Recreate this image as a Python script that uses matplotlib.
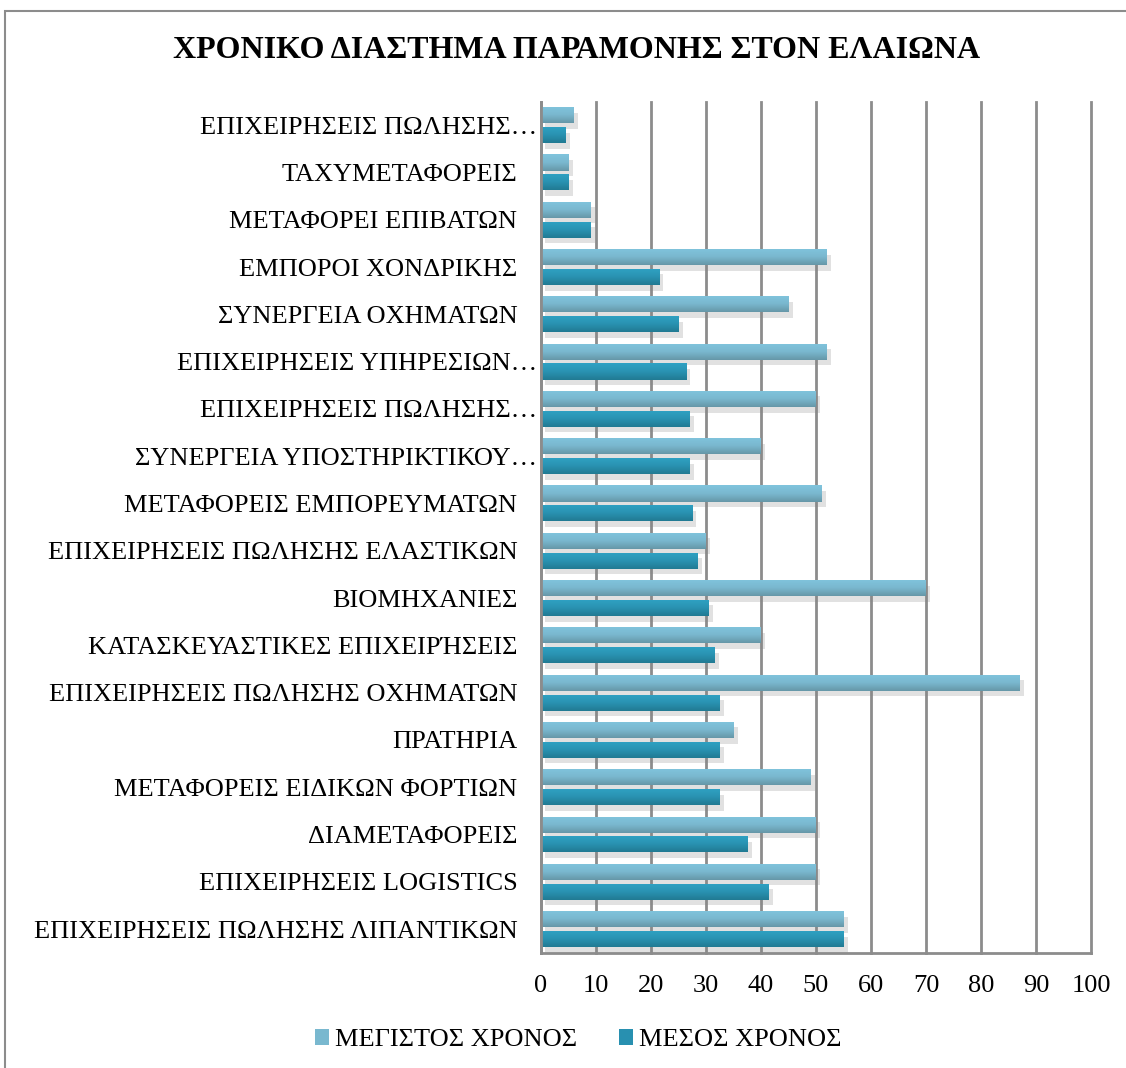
import numpy as np
import matplotlib
matplotlib.use("Agg")
import matplotlib.pyplot as plt
import matplotlib.patheffects as pe
import matplotlib.transforms as mtransforms
from matplotlib.patches import Patch, Rectangle
from matplotlib.colors import LinearSegmentedColormap

# Κατηγορίες (από πάνω προς τα κάτω)
kategories = [
    "ΕΠΙΧΕΙΡΗΣΕΙΣ ΠΩΛΗΣΗΣ…",
    "ΤΑΧΥΜΕΤΑΦΟΡΕΙΣ",
    "ΜΕΤΑΦΟΡΕΙ ΕΠΙΒΑΤΩΝ",
    "ΕΜΠΟΡΟΙ ΧΟΝΔΡΙΚΗΣ",
    "ΣΥΝΕΡΓΕΙΑ ΟΧΗΜΑΤΩΝ",
    "ΕΠΙΧΕΙΡΗΣΕΙΣ ΥΠΗΡΕΣΙΩΝ…",
    "ΕΠΙΧΕΙΡΗΣΕΙΣ ΠΩΛΗΣΗΣ…",
    "ΣΥΝΕΡΓΕΙΑ ΥΠΟΣΤΗΡΙΚΤΙΚΟΥ…",
    "ΜΕΤΑΦΟΡΕΙΣ ΕΜΠΟΡΕΥΜΑΤΩΝ",
    "ΕΠΙΧΕΙΡΗΣΕΙΣ ΠΩΛΗΣΗΣ ΕΛΑΣΤΙΚΩΝ",
    "ΒΙΟΜΗΧΑΝΙΕΣ",
    "ΚΑΤΑΣΚΕΥΑΣΤΙΚΕΣ ΕΠΙΧΕΙΡΉΣΕΙΣ",
    "ΕΠΙΧΕΙΡΗΣΕΙΣ ΠΩΛΗΣΗΣ ΟΧΗΜΑΤΩΝ",
    "ΠΡΑΤΗΡΙΑ",
    "ΜΕΤΑΦΟΡΕΙΣ ΕΙΔΙΚΩΝ ΦΟΡΤΙΩΝ",
    "ΔΙΑΜΕΤΑΦΟΡΕΙΣ",
    "ΕΠΙΧΕΙΡΗΣΕΙΣ LOGISTICS",
    "ΕΠΙΧΕΙΡΗΣΕΙΣ ΠΩΛΗΣΗΣ ΛΙΠΑΝΤΙΚΩΝ",
]
megistos = [6, 5, 9, 52, 45, 52, 50, 40, 51, 30, 70, 40, 87, 35, 49, 50, 50, 55]
mesos = [4.5, 5, 9, 21.5, 25, 26.4, 27, 27, 27.5, 28.5, 30.5, 31.6, 32.5, 32.5, 32.5, 37.6, 41.4, 55]
x_ticks = list(range(0, 101, 10))

plt.rcParams['font.family'] = ['Liberation Serif', 'DejaVu Serif']

fig = plt.figure(figsize=(11.26, 10.68), dpi=100)
ax = fig.add_axes([541 / 1126, 115.3 / 1068, 550 / 1126, 851.2 / 1068])

y = np.arange(len(kategories))
h = 0.34
off = 0.21

grad_light = LinearSegmentedColormap.from_list("l", ["#80c4dd", "#7ab8cf", "#6697a8"])
grad_dark = LinearSegmentedColormap.from_list("d", ["#2fa2c4", "#2a93b2", "#217a93"])

shadow = [pe.SimplePatchShadow(offset=(3, -4), shadow_rgbFace="#888888", alpha=0.25), pe.Normal()]

bars_max = ax.barh(y - off, megistos, height=h, color="#79b8cf", zorder=3, path_effects=shadow)
bars_mes = ax.barh(y + off, mesos, height=h, color="#2890b0", zorder=3, path_effects=shadow)

# Διαβάθμιση χρώματος σε κάθε μπάρα
grad = np.linspace(0, 1, 64).reshape(-1, 1)
for bars, cmap in [(bars_max, grad_light), (bars_mes, grad_dark)]:
    for b in bars:
        x0, y0 = b.get_x(), b.get_y()
        w, hh = b.get_width(), b.get_height()
        im = ax.imshow(grad, cmap=cmap, aspect="auto", origin="upper",
                       extent=(x0, x0 + w, y0 + hh, y0), zorder=4)
        im.set_clip_path(b)

ax.set_xlim(0, 100)
ax.set_ylim(len(kategories) - 0.5, -0.5)
ax.set_xticks(x_ticks)
ax.set_yticks(y)
ax.set_yticklabels(kategories)
ax.tick_params(axis="y", length=0, pad=17, labelsize=19)
ax.tick_params(axis="x", length=0, pad=16, labelsize=19)

# Οι κομμένες ετικέτες φτάνουν ως τον άξονα
shift = mtransforms.ScaledTranslation(20 / 100, 0, fig.dpi_scale_trans)
for lbl in ax.get_yticklabels():
    if lbl.get_text().endswith("…"):
        lbl.set_transform(lbl.get_transform() + shift)

ax.grid(axis="x", color="#8c8c8c", linewidth=2, zorder=0)
ax.set_axisbelow(True)
for gl in ax.xaxis.get_gridlines():
    gl.set_clip_on(False)
for s in ["top", "right"]:
    ax.spines[s].set_visible(False)
for s in ["left", "bottom"]:
    ax.spines[s].set_color("#8c8c8c")
    ax.spines[s].set_linewidth(2)
    ax.spines[s].set_zorder(5)

fig.text(577 / 1126, 1 - 50 / 1068, "ΧΡΟΝΙΚΟ ΔΙΑΣΤΗΜΑ ΠΑΡΑΜΟΝΗΣ ΣΤΟΝ ΕΛΑΙΩΝΑ",
         ha="center", va="center", fontsize=23, fontweight="bold")

handles = [Patch(facecolor="#79b8cf", label="ΜΕΓΙΣΤΟΣ ΧΡΟΝΟΣ"),
           Patch(facecolor="#2890b0", label="ΜΕΣΟΣ ΧΡΟΝΟΣ")]
fig.legend(handles=handles, loc="center", bbox_to_anchor=(578 / 1126, 1 - 1040 / 1068),
           ncol=2, frameon=False, fontsize=19, handlelength=0.55, handleheight=0.55,
           handletextpad=0.2, columnspacing=1.6)

# Περίγραμμα γραφήματος
fig.patches.append(Rectangle((5 / 1126, -0.05), 1.1, 1 - 11 / 1068 + 0.05,
                             transform=fig.transFigure, fill=False,
                             edgecolor="#8c8c8c", linewidth=1.5))

fig.savefig("out.png", dpi=100)
